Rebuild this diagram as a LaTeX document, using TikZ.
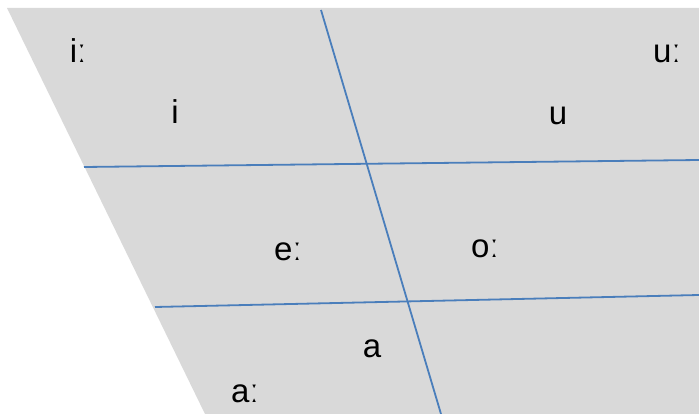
\documentclass[tikz,border=0pt]{standalone}
\usepackage{fontspec}
\setmainfont{Liberation Sans}
\definecolor{bgray}{HTML}{D9D9D9}
\definecolor{lblue}{HTML}{4A7EBB}
\begin{document}
\begin{tikzpicture}[x=1pt,y=-1pt,
  vowel/.style={anchor=base,inner sep=0pt,font=\fontsize{33}{40}\selectfont},
  grid/.style={draw=lblue,line width=1.8pt}]
\useasboundingbox (0,0) rectangle (699,414);
\fill[bgray] (7,8) -- (699,8) -- (699,414) -- (205,414) -- cycle;
\coordinate (vt) at (321,10);
\coordinate (vb) at (441,414);
\coordinate (h1l) at (84,167);
\coordinate (h1r) at (699,160);
\coordinate (h2l) at (155,307);
\coordinate (h2r) at (699,295);
\draw[grid] (vt) -- (vb);
\draw[grid] (h1l) -- (h1r);
\draw[grid] (h2l) -- (h2r);
\node[vowel] (iL) at (78,63) {iː};
\node[vowel] (uL) at (667,63) {uː};
\node[vowel] (i) at (175,124) {i};
\node[vowel] (u) at (558,125) {u};
\node[vowel] (eL) at (288,261) {eː};
\node[vowel] (oL) at (485,258) {oː};
\node[vowel] (a) at (372,357) {a};
\node[vowel] (aL) at (245,402) {aː};
\end{tikzpicture}
\end{document}
